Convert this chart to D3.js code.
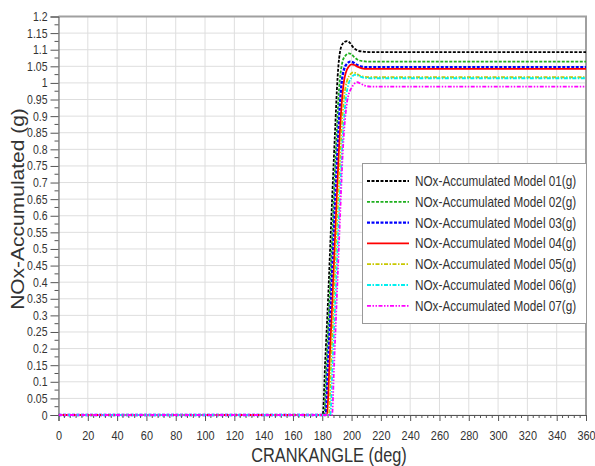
<!DOCTYPE html>
<html lang="en">
  <head>
    <meta charset="UTF-8" />
    <title>NOx-Accumulated vs Crankangle</title>
    <script src="https://cdnjs.cloudflare.com/ajax/libs/d3/7.8.5/d3.min.js"></script>
    <style>
      body { margin: 0; background: #fff; }
      text { font-family: "Liberation Sans", Arial, sans-serif; fill: #333; }
    </style>
  </head>
  <body>
    <figure id="chart" style="margin:0"></figure>

    <script>
      /** Dataset: [crank angle (deg), NOx accumulated (g)] */
      const model01 = [[0, 0], [180.3, 0], [182, 0.16], [184, 0.35], [186, 0.57], [188, 0.78], [189, 0.88], [190, 0.98], [191, 1.05], [192, 1.09], [193, 1.11], [195, 1.123], [197, 1.126], [199, 1.12], [201, 1.108], [204, 1.098], [208, 1.094], [212, 1.093], [360, 1.093]];
      const model02 = [[0, 0], [181.3, 0], [183, 0.16], [185, 0.35], [187, 0.56], [189, 0.77], [190, 0.86], [191, 0.95], [192, 1.01], [193, 1.045], [194, 1.067], [196, 1.083], [198, 1.089], [200, 1.086], [202, 1.077], [205, 1.068], [209, 1.065], [213, 1.064], [360, 1.064]];
      const model03 = [[0, 0], [182.3, 0], [184, 0.16], [186, 0.35], [188, 0.56], [190, 0.76], [191, 0.85], [192, 0.93], [193, 0.99], [194, 1.025], [195, 1.043], [197, 1.058], [199, 1.064], [201, 1.062], [203, 1.056], [206, 1.05], [210, 1.047], [360, 1.047]];
      const model04 = [[0, 0], [183.3, 0], [185, 0.16], [187, 0.35], [189, 0.56], [191, 0.76], [192, 0.85], [193, 0.92], [194, 0.975], [195, 1.01], [196, 1.03], [198, 1.049], [200, 1.056], [202, 1.054], [204, 1.049], [207, 1.044], [211, 1.042], [360, 1.042]];
      const model05 = [[0, 0], [184.5, 0], [186, 0.15], [188, 0.35], [190, 0.56], [192, 0.75], [193, 0.84], [194, 0.91], [195, 0.96], [196, 0.99], [197, 1.008], [199, 1.025], [201, 1.032], [203, 1.029], [205, 1.023], [208, 1.019], [212, 1.017], [360, 1.017]];
      const model06 = [[0, 0], [185.5, 0], [187, 0.15], [189, 0.35], [191, 0.56], [193, 0.75], [194, 0.84], [195, 0.9], [196, 0.95], [197, 0.98], [198, 0.998], [200, 1.016], [202, 1.024], [204, 1.023], [206, 1.019], [209, 1.015], [213, 1.014], [360, 1.014]];
      const model07 = [[0, 0], [186.7, 0], [188, 0.14], [190, 0.36], [192, 0.58], [193, 0.69], [194, 0.79], [195, 0.86], [196, 0.91], [197, 0.945], [198, 0.965], [200, 0.985], [202, 0.998], [204, 1.002], [206, 0.998], [209, 0.992], [213, 0.989], [360, 0.989]];

      const seriesNames = [
        "NOx-Accumulated Model 01(g)",
        "NOx-Accumulated Model 02(g)",
        "NOx-Accumulated Model 03(g)",
        "NOx-Accumulated Model 04(g)",
        "NOx-Accumulated Model 05(g)",
        "NOx-Accumulated Model 06(g)",
        "NOx-Accumulated Model 07(g)",
      ];
      const seriesData = [model01, model02, model03, model04, model05, model06, model07];

      const xTicks = d3.range(0, 361, 20);
      const yTicks = d3.range(0, 25).map((i) => +(i * 0.05).toFixed(2));

      /** Styles */
      const colors = ["#000000", "#1fb01f", "#0000ff", "#ff0000", "#c8c800", "#00f0f0", "#ff00ff"];
      const dashes = ["3,1.5", "3,1.5", "3,1.5", null, "4,1.5,1.5,1.5", "4,1.5,1.5,1.5", "4,1.5,1.5,1.5,1.5,1.5"];
      const widths = [1.8, 1.8, 2.4, 1.8, 1.8, 1.8, 1.8];

      /** Graph configs */
      const width = 595;
      const height = 466;
      const plotLeft = 58.5;
      const plotRight = 586;
      const plotTop = 16.5;
      const plotBottom = 415;
      const squeeze = 0.84; // text in the source is horizontally compressed

      const xScale = d3.scaleLinear().domain([0, 360]).range([plotLeft, plotRight]);
      const yScale = d3.scaleLinear().domain([0, 1.2]).range([plotBottom, plotTop]);

      const svg = d3
        .select("#chart")
        .append("svg")
        .attr("width", width)
        .attr("height", height);

      /** Grid */
      svg
        .append("g")
        .selectAll("line")
        .data(xTicks)
        .join("line")
        .attr("x1", (d) => xScale(d))
        .attr("x2", (d) => xScale(d))
        .attr("y1", plotTop)
        .attr("y2", plotBottom)
        .attr("stroke", "#dedede");
      svg
        .append("g")
        .selectAll("line")
        .data(yTicks)
        .join("line")
        .attr("x1", plotLeft)
        .attr("x2", plotRight)
        .attr("y1", (d) => yScale(d))
        .attr("y2", (d) => yScale(d))
        .attr("stroke", "#dedede");

      /** Frame (top / right) */
      svg
        .append("path")
        .attr("d", `M${plotLeft},${plotTop}H${plotRight}V${plotBottom}`)
        .attr("fill", "none")
        .attr("stroke", "#a0a0a0")
        .attr("stroke-width", 2);

      /** Minor ticks */
      const xMinor = d3.range(0, 361, 4).filter((d) => d % 20 !== 0);
      const yMinor = d3.range(0, 24).map((i) => i * 0.05 + 0.025);

      /** Axes */
      const xAxis = d3.axisBottom(xScale).tickValues(xTicks).tickSize(6).tickPadding(10);
      const yAxis = d3
        .axisLeft(yScale)
        .tickValues(yTicks)
        .tickSize(8)
        .tickPadding(3)
        .tickFormat((d) => d3.format("")(+d.toFixed(2)));

      const gx = svg.append("g").attr("transform", `translate(0, ${plotBottom})`).call(xAxis);
      gx.select(".domain").attr("stroke", "#555");
      gx.selectAll(".tick line").attr("stroke", "#555");
      gx.selectAll("text")
        .attr("font-size", 13)
        .attr("fill", "#333")
        .attr("transform", `scale(${squeeze},1)`);
      gx.append("g")
        .selectAll("line")
        .data(xMinor)
        .join("line")
        .attr("x1", (d) => xScale(d))
        .attr("x2", (d) => xScale(d))
        .attr("y1", 0)
        .attr("y2", 3)
        .attr("stroke", "#555");

      const gy = svg.append("g").attr("transform", `translate(${plotLeft}, 0)`).call(yAxis);
      gy.select(".domain").attr("stroke", "#555");
      gy.selectAll(".tick line").attr("stroke", "#555");
      gy.selectAll("text")
        .attr("font-size", 12.5)
        .attr("fill", "#333")
        .attr("x", -11 / squeeze)
        .attr("transform", `scale(${squeeze},1)`);
      gy.append("g")
        .selectAll("line")
        .data(yMinor)
        .join("line")
        .attr("x1", -4)
        .attr("x2", 0)
        .attr("y1", (d) => yScale(d))
        .attr("y2", (d) => yScale(d))
        .attr("stroke", "#555");

      /** Axis titles */
      svg
        .append("text")
        .attr("transform", `translate(329, 462) scale(${squeeze},1)`)
        .attr("text-anchor", "middle")
        .attr("font-size", 19.5)
        .attr("fill", "#222")
        .text("CRANKANGLE (deg)");
      svg
        .append("text")
        .attr("transform", `translate(24, 209) rotate(-90) scale(1,${squeeze})`)
        .attr("text-anchor", "middle")
        .attr("font-size", 21)
        .attr("fill", "#222")
        .text("NOx-Accumulated (g)");

      /** Lines */
      svg
        .append("clipPath")
        .attr("id", "plot-clip")
        .append("rect")
        .attr("x", plotLeft)
        .attr("y", plotTop - 2)
        .attr("width", plotRight - plotLeft)
        .attr("height", plotBottom - plotTop + 4);

      const line = d3
        .line()
        .x((d) => xScale(d[0]))
        .y((d) => yScale(d[1]))
        .curve(d3.curveMonotoneX);

      svg
        .append("g")
        .attr("clip-path", "url(#plot-clip)")
        .selectAll("path")
        .data(seriesData)
        .join("path")
        .attr("d", line)
        .attr("fill", "none")
        .attr("stroke", (d, i) => colors[i])
        .attr("stroke-width", (d, i) => widths[i])
        .attr("stroke-dasharray", (d, i) => dashes[i]);

      /** Legend */
      const legend = svg.append("g");
      legend
        .append("rect")
        .attr("x", 362.5)
        .attr("y", 163.5)
        .attr("width", 224)
        .attr("height", 160)
        .attr("fill", "#fff")
        .attr("stroke", "#999");

      const rows = legend
        .selectAll("g.row")
        .data(seriesNames)
        .join("g")
        .attr("class", "row")
        .attr("transform", (d, i) => `translate(0, ${181 + i * 20.8})`);

      rows
        .append("line")
        .attr("x1", 367)
        .attr("x2", 409)
        .attr("stroke", (d, i) => colors[i])
        .attr("stroke-width", (d, i) => widths[i])
        .attr("stroke-dasharray", (d, i) => dashes[i]);

      rows
        .append("text")
        .attr("transform", `translate(415, 5) scale(${squeeze},1)`)
        .attr("font-size", 14)
        .attr("fill", "#333")
        .text((d) => d);
    </script>
  </body>
</html>
